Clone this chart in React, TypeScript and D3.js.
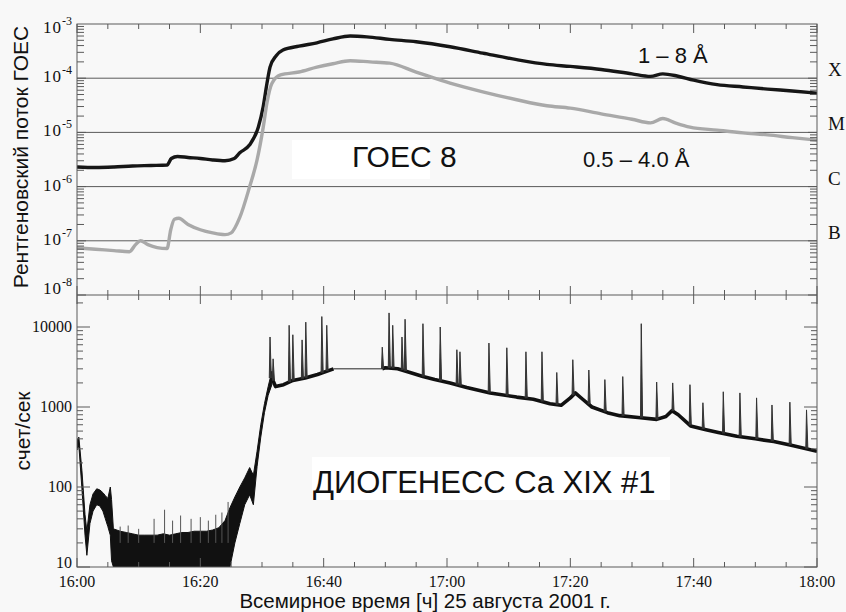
import React, { useEffect, useRef } from "react";
import * as d3 from "d3";

// time is minutes after 16:00 UT

// GOES 8, 1 - 8 A channel (W/m^2)
const goesLongT = [0, 3, 6, 9, 12, 14.6, 15.3, 16.3, 18, 20, 22, 24, 25.5, 26.4, 28, 29.4, 30.2, 30.8, 31.3, 32.3, 33.4, 36, 38.9, 41.5, 44.3, 47, 50.7, 55, 60.5, 65.8, 71.3, 76.2, 80, 85, 90, 93, 95, 97.3, 100, 103.8, 108, 112, 116, 120];
const goesLongV = [2.3e-6, 2.25e-6, 2.3e-6, 2.4e-6, 2.45e-6, 2.5e-6, 3.3e-6, 3.6e-6, 3.45e-6, 3.3e-6, 3.1e-6, 3.0e-6, 3.3e-6, 4.2e-6, 5.9e-6, 1.25e-5, 3.0e-5, 8.0e-5, 1.6e-4, 2.6e-4, 3.3e-4, 3.9e-4, 4.5e-4, 5.3e-4, 6.0e-4, 5.8e-4, 5.2e-4, 4.7e-4, 3.8e-4, 2.9e-4, 2.2e-4, 1.8e-4, 1.65e-4, 1.45e-4, 1.2e-4, 1.08e-4, 1.2e-4, 1.1e-4, 9.2e-5, 7.6e-5, 6.9e-5, 6.3e-5, 5.8e-5, 5.3e-5];

// GOES 8, 0.5 - 4.0 A channel (W/m^2)
const goesShortT = [0, 3, 6, 8.5, 9.5, 10.3, 11.5, 13, 14.6, 15.2, 15.8, 16.5, 18, 20, 22, 24, 25, 26.4, 28, 29.2, 30.2, 30.8, 31.6, 33, 36, 38.9, 41.5, 44.3, 47.5, 50.7, 55, 60.5, 65.8, 71.3, 76.2, 80, 85, 90, 93, 95, 97, 99.4, 103.8, 108, 112, 116, 120];
const goesShortV = [7.4e-8, 7.0e-8, 6.6e-8, 6.3e-8, 8.5e-8, 1.0e-7, 8.5e-8, 7.5e-8, 7.2e-8, 1.6e-7, 2.5e-7, 2.6e-7, 2.0e-7, 1.6e-7, 1.4e-7, 1.3e-7, 1.4e-7, 2.7e-7, 1.0e-6, 3.1e-6, 1.25e-5, 3.5e-5, 8.0e-5, 1.15e-4, 1.3e-4, 1.6e-4, 1.85e-4, 2.1e-4, 2.0e-4, 1.9e-4, 1.3e-4, 8.1e-5, 5.6e-5, 4.0e-5, 3.1e-5, 2.8e-5, 2.2e-5, 1.75e-5, 1.5e-5, 1.8e-5, 1.5e-5, 1.25e-5, 1.1e-5, 9.8e-6, 9.0e-6, 8.0e-6, 7.2e-6];

// DIOGENESS Ca XIX #1, noisy part before the main rise (counts/s)
const dioBandT = [0, 0.3, 0.8, 1.3, 1.6, 2.1, 2.6, 3.2, 3.7, 4.2, 4.6, 5.0, 5.4, 5.6, 5.9, 7, 8, 9, 10, 11, 12, 13, 14, 15, 16, 17, 18, 19, 20, 21, 22, 23, 24, 24.8, 25.6, 26.4, 27.2, 28, 28.6, 29.2, 29.8, 30.4, 31, 31.6];
const dioBandHi = [380, 420, 160, 45, 28, 60, 82, 95, 92, 85, 78, 72, 100, 70, 30, 28, 27, 26, 25, 25, 25, 25, 26, 25, 26, 27, 27, 28, 28, 28, 29, 31, 38, 55, 75, 100, 130, 175, 140, 280, 600, 1100, 1800, 2800];
const dioBandLo = [290, 330, 95, 25, 14, 35, 50, 60, 58, 50, 40, 32, 25, 12, 10, 10, 10, 10, 10, 10, 10, 10, 10, 10, 10, 10, 10, 10, 10, 10, 10, 10, 10, 10, 20, 35, 60, 80, 60, 180, 420, 850, 1400, 1900];

// DIOGENESS main trace after the rise
const dioT = [31.6, 32.2, 33.5, 35, 37, 39, 41.6, 49.5, 50, 52, 54, 56.1, 58, 60.5, 63.2, 67, 71.3, 74, 76.7, 78.5, 80, 80.8, 82, 83.5, 86, 88, 91, 94, 95.5, 96.5, 97.5, 99.5, 102, 104, 107, 110, 113, 116, 120];
const dioV = [2300, 1800, 1900, 2150, 2300, 2550, 3000, 3000, 3100, 3000, 2700, 2400, 2200, 2000, 1750, 1500, 1330, 1250, 1100, 1050, 1300, 1500, 1250, 1000, 850, 780, 740, 700, 760, 900, 800, 580, 520, 480, 430, 400, 370, 330, 280];
const dioGap = [41.6, 49.5];

// flare-like spikes on the main trace
const spikeT = [31.3, 31.8, 34.4, 35.0, 36.5, 37.1, 39.7, 40.5, 49.5, 50.6, 51.2, 52.7, 53.2, 56.1, 58.9, 61.6, 62.1, 66.8, 69.7, 72.8, 75.4, 77.8, 80.4, 83.0, 85.6, 88.5, 91.5, 94.0, 96.6, 99.4, 101.5, 104.8, 107.5, 110.2, 112.7, 115.6, 118.3];
const spikeV = [7500, 4000, 10500, 8000, 6900, 11500, 13500, 10500, 5600, 15000, 10500, 7500, 12500, 11000, 10000, 5200, 4900, 6300, 5500, 4900, 4900, 2700, 3900, 2900, 2200, 2400, 11000, 2050, 2000, 1900, 1130, 1550, 1500, 1300, 1060, 1150, 920];

// small spikes above the noise floor
const noiseSpikeT = [7, 8.3, 10, 12.5, 14.2, 15.5, 16.8, 18.5, 20, 21.3, 22.5, 23.5, 24.5];
const noiseSpikeV = [32, 33, 30, 40, 52, 38, 44, 40, 42, 38, 45, 48, 65];

const timeTicks = d3.range(0, 121, 5);
const timeLabels = ["16:00", "16:20", "16:40", "17:00", "17:20", "17:40", "18:00"];
const goesExponents = [-3, -4, -5, -6, -7, -8];
const goesClasses = ["X", "M", "C", "B"];
const goesClassLevels = [1e-4, 1e-5, 1e-6, 1e-7];
const dioTickValues = [10, 100, 1000, 10000];

const sans = "'Liberation Sans', Arial, sans-serif";
const serif = "'Liberation Serif', 'Times New Roman', serif";

const App = () => {
  const svgRef = useRef<SVGSVGElement>(null);

  useEffect(() => {
    const W = 846;
    const H = 612;
    const left = 77;
    const right = 817;
    const top = 24;
    const mid = 295;
    const bottom = 567;
    const axisColor = "#5a5a5a";

    const svg = d3.select(svgRef.current);
    svg.selectAll("*").remove();
    svg.attr("width", W).attr("height", H);

    svg.append("rect").attr("width", W).attr("height", H).attr("fill", "#f8f8f8");

    const x = d3.scaleLinear().domain([0, 120]).range([left, right]);
    const yG = d3.scaleLog().domain([1e-8, 1e-3]).range([mid, top]);
    const yD = d3.scaleLog().domain([10, Math.pow(10, 4.4)]).range([bottom, mid]);

    const defs = svg.append("defs");
    defs.append("clipPath").attr("id", "clipTop")
      .append("rect").attr("x", left).attr("y", top).attr("width", right - left).attr("height", mid - top);
    defs.append("clipPath").attr("id", "clipBot")
      .append("rect").attr("x", left).attr("y", mid).attr("width", right - left).attr("height", bottom - mid);

    // GOES class grid lines
    svg.append("g")
      .selectAll("line")
      .data(goesClassLevels)
      .join("line")
      .attr("x1", left).attr("x2", right)
      .attr("y1", (d) => yG(d)).attr("y2", (d) => yG(d))
      .attr("stroke", axisColor).attr("stroke-width", 1);

    // white boxes behind labels
    svg.append("rect").attr("x", 292).attr("y", 140).attr("width", 138).attr("height", 39).attr("fill", "#fff");
    svg.append("rect").attr("x", 312).attr("y", 457).attr("width", 358).attr("height", 43).attr("fill", "#fff");

    // --- top panel curves
    const gTop = svg.append("g").attr("clip-path", "url(#clipTop)");
    const goesLine = d3.line<[number, number]>()
      .x((d) => x(d[0]))
      .y((d) => yG(d[1]))
      .curve(d3.curveMonotoneX);

    gTop.append("path")
      .attr("d", goesLine(goesLongT.map((t, i) => [t, goesLongV[i]])))
      .attr("fill", "none").attr("stroke", "#161616").attr("stroke-width", 3.4)
      .attr("stroke-linejoin", "round");
    gTop.append("path")
      .attr("d", goesLine(goesShortT.map((t, i) => [t, goesShortV[i]])))
      .attr("fill", "none").attr("stroke", "#a9a9a9").attr("stroke-width", 3.4)
      .attr("stroke-linejoin", "round");

    // --- bottom panel curves
    const gBot = svg.append("g").attr("clip-path", "url(#clipBot)");

    const band = d3.area<number>()
      .x((t) => x(t))
      .y0((t, i) => yD(dioBandLo[i]))
      .y1((t, i) => yD(dioBandHi[i]));
    gBot.append("path")
      .attr("d", band(dioBandT))
      .attr("fill", "#111").attr("stroke", "#111").attr("stroke-width", 1);

    gBot.append("g")
      .selectAll("line")
      .data(noiseSpikeT)
      .join("line")
      .attr("x1", (t) => x(t)).attr("x2", (t) => x(t))
      .attr("y1", yD(20)).attr("y2", (t, i) => yD(noiseSpikeV[i]))
      .attr("stroke", "#555").attr("stroke-width", 1);

    const dioPts: [number, number][] = dioT.map((t, i) => [t, dioV[i]]);
    const dioLine = d3.line<[number, number]>().x((d) => x(d[0])).y((d) => yD(d[1]));

    // thin line through the data gap
    gBot.append("path")
      .attr("d", dioLine(dioPts.filter((d) => d[0] >= dioGap[0] && d[0] <= dioGap[1])))
      .attr("fill", "none").attr("stroke", "#222").attr("stroke-width", 1);

    [dioPts.filter((d) => d[0] <= dioGap[0]), dioPts.filter((d) => d[0] >= dioGap[1])].forEach((seg) => {
      gBot.append("path")
        .attr("d", dioLine(seg))
        .attr("fill", "none").attr("stroke", "#111").attr("stroke-width", 3.6)
        .attr("stroke-linejoin", "round");
    });

    const baseAt = d3.scaleLinear().domain(dioT).range(dioV).clamp(true);
    gBot.append("g")
      .selectAll("path")
      .data(spikeT)
      .join("path")
      .attr("d", (t, i) => {
        const b = yD(baseAt(t));
        return `M${x(t - 0.12)},${b}L${x(t)},${yD(spikeV[i])}L${x(t + 0.22)},${b}`;
      })
      .attr("fill", "#333").attr("stroke", "#333").attr("stroke-width", 1)
      .attr("stroke-linejoin", "miter");

    // --- frame and ticks
    const axes = svg.append("g").attr("stroke", axisColor).attr("stroke-width", 1).attr("fill", "none");
    axes.append("rect").attr("x", left).attr("y", top).attr("width", right - left).attr("height", bottom - top);
    axes.append("line").attr("x1", left).attr("x2", right).attr("y1", mid).attr("y2", mid);

    // time ticks on all horizontal edges
    timeTicks.forEach((t) => {
      const major = t % 20 === 0;
      const xp = x(t);
      const len = major ? 9 : 5;
      [[top, 1], [mid, -1], [mid, 1], [bottom, -1]].forEach(([y0, dir]) => {
        axes.append("line").attr("x1", xp).attr("x2", xp).attr("y1", y0).attr("y2", y0 + dir * len);
      });
    });

    // log ticks, top panel
    d3.range(-8, -3).forEach((e) => {
      d3.range(1, 10).forEach((k) => {
        const v = k * Math.pow(10, e);
        const yp = yG(v);
        const len = k === 1 ? 9 : 7;
        axes.append("line").attr("x1", left).attr("x2", left + len).attr("y1", yp).attr("y2", yp);
        axes.append("line").attr("x1", right).attr("x2", right - len).attr("y1", yp).attr("y2", yp);
      });
    });

    // log ticks, bottom panel
    d3.range(1, 5).forEach((e) => {
      d3.range(1, 10).forEach((k) => {
        const v = k * Math.pow(10, e);
        if (v > Math.pow(10, 4.4)) return;
        const yp = yD(v);
        const len = k === 1 ? 13 : 6;
        axes.append("line").attr("x1", left).attr("x2", left + len).attr("y1", yp).attr("y2", yp);
        axes.append("line").attr("x1", right).attr("x2", right - len).attr("y1", yp).attr("y2", yp);
      });
    });

    // --- tick labels
    const labels = svg.append("g").attr("font-family", serif).attr("fill", "#111");

    goesExponents.forEach((e) => {
      const yp = Math.max(33, Math.min(294, yG(Math.pow(10, e)) + 4));
      const txt = labels.append("text")
        .attr("x", 72).attr("y", yp)
        .attr("text-anchor", "end")
        .attr("font-size", 17);
      txt.append("tspan").attr("letter-spacing", 1).text("10");
      txt.append("tspan").attr("font-size", 12).attr("dy", -8).text(String(e));
    });

    dioTickValues.forEach((v) => {
      labels.append("text")
        .attr("x", 72).attr("y", Math.min(568, yD(v) + 5))
        .attr("text-anchor", "end")
        .attr("font-size", 16)
        .text(String(v));
    });

    timeLabels.forEach((s, i) => {
      labels.append("text")
        .attr("x", x(i * 20)).attr("y", 587)
        .attr("text-anchor", "middle")
        .attr("font-size", 16)
        .text(s);
    });

    goesClasses.forEach((c, i) => {
      labels.append("text")
        .attr("x", 828).attr("y", yG(goesClassLevels[i]) - 2)
        .attr("font-size", 19)
        .text(c);
    });

    // --- titles and annotations
    const titles = svg.append("g").attr("font-family", sans).attr("fill", "#111");
    titles.append("text")
      .attr("transform", "translate(28,157) rotate(-90)")
      .attr("text-anchor", "middle").attr("font-size", 21)
      .text("Рентгеновский поток ГОЕС");
    titles.append("text")
      .attr("transform", "translate(30,431) rotate(-90)")
      .attr("text-anchor", "middle").attr("font-size", 21)
      .text("счет/сек");
    titles.append("text")
      .attr("x", 425).attr("y", 608)
      .attr("text-anchor", "middle").attr("font-size", 20.5)
      .text("Всемирное время [ч] 25 августа 2001 г.");
    titles.append("text")
      .attr("x", 352).attr("y", 167).attr("font-size", 30)
      .text("ГОЕС 8");
    titles.append("text")
      .attr("x", 313).attr("y", 493).attr("font-size", 31)
      .text("ДИОГЕНЕСС Ca XIX #1");
    titles.append("text")
      .attr("x", 638).attr("y", 63).attr("font-size", 22)
      .text("1 – 8 Å");
    titles.append("text")
      .attr("x", 583).attr("y", 167).attr("font-size", 22)
      .text("0.5 – 4.0 Å");
  }, []);

  return <svg ref={svgRef} style={{ position: "absolute", left: 0, top: 0, display: "block" }}></svg>;
};

export default App;
